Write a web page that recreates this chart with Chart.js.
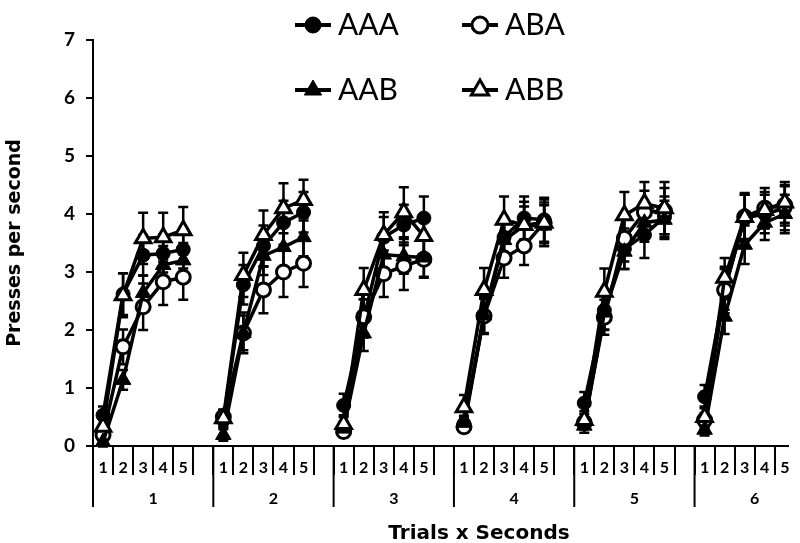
<!DOCTYPE html>
<html>
<head>
<meta charset="utf-8">
<script src="https://cdn.jsdelivr.net/npm/chart.js@4.4.0/dist/chart.umd.min.js"></script>
<style>
  html, body { margin: 0; padding: 0; background: #fff; overflow: hidden; }
  canvas { display: block; }
</style>
</head>
<body>
<canvas id="pressChart" width="800" height="543"></canvas>
<script>
// Tick labels
const trialLabels = ['1', '2', '3', '4', '5'];
const blockLabels = ['1', '2', '3', '4', '5', '6'];

// Means, 5 trials per block, blocks 1..6
const aaaMean = [0.53, 2.62, 3.29, 3.32, 3.39,  0.45, 2.78, 3.45, 3.85, 4.03,  0.70, 2.20, 3.60, 3.81, 3.93,
                 0.38, 2.26, 3.60, 3.93, 3.90,  0.74, 2.34, 3.40, 3.64, 3.95,  0.85, 2.70, 3.93, 4.00, 4.10];
const abaMean = [0.19, 1.71, 2.40, 2.83, 2.91,  0.50, 1.95, 2.69, 3.00, 3.15,  0.25, 2.23, 2.97, 3.10, 3.22,
                 0.33, 2.24, 3.24, 3.45, 3.85,  0.40, 2.22, 3.58, 4.03, 4.05,  0.45, 2.69, 3.95, 4.10, 4.15];
const aabMean = [0.07, 1.14, 2.64, 3.12, 3.20,  0.19, 1.95, 3.28, 3.43, 3.60,  0.30, 1.94, 3.30, 3.27, 3.25,
                 0.40, 2.25, 3.55, 3.80, 3.80,  0.35, 2.30, 3.35, 3.85, 3.90,  0.28, 2.23, 3.47, 3.85, 4.00];
const abbMean = [0.33, 2.60, 3.58, 3.60, 3.72,  0.48, 2.95, 3.64, 4.10, 4.24,  0.38, 2.69, 3.64, 4.03, 3.62,
                 0.67, 2.69, 3.90, 3.81, 3.85,  0.45, 2.66, 3.98, 4.18, 4.10,  0.50, 2.90, 3.95, 4.07, 4.20];

// Standard errors
const aaaSE = [0.15, 0.36, 0.35, 0.33, 0.33,  0.12, 0.34, 0.35, 0.38, 0.35,  0.20, 0.33, 0.35, 0.35, 0.37,
               0.12, 0.33, 0.35, 0.37, 0.38,  0.19, 0.33, 0.35, 0.40, 0.35,  0.20, 0.35, 0.40, 0.33, 0.38];
const abaSE = [0.12, 0.30, 0.40, 0.40, 0.39,  0.12, 0.35, 0.40, 0.43, 0.41,  0.10, 0.30, 0.40, 0.41, 0.32,
               0.10, 0.30, 0.34, 0.33, 0.35,  0.10, 0.30, 0.40, 0.37, 0.40,  0.12, 0.40, 0.38, 0.35, 0.35];
const aabSE = [0.08, 0.17, 0.30, 0.33, 0.30,  0.10, 0.30, 0.33, 0.35, 0.33,  0.12, 0.30, 0.33, 0.30, 0.33,
               0.12, 0.30, 0.33, 0.33, 0.35,  0.12, 0.30, 0.30, 0.33, 0.33,  0.10, 0.30, 0.33, 0.30, 0.33];
const abbSE = [0.12, 0.38, 0.44, 0.42, 0.40,  0.15, 0.38, 0.42, 0.43, 0.35,  0.15, 0.38, 0.39, 0.43, 0.35,
               0.21, 0.38, 0.40, 0.40, 0.40,  0.15, 0.40, 0.40, 0.37, 0.45,  0.18, 0.34, 0.41, 0.31, 0.35];

const slotsPerBlock = trialLabels.length + 1; // 5 trials + empty gap slot
const FONT = 'Lato, "DejaVu Sans", sans-serif';
const TITLE_FONT = '"DejaVu Sans", sans-serif';

// turn a flat mean array into x/y points, with a null gap after each block
function buildPoints(means, errs) {
    const pts = [];
    blockLabels.forEach((b, g) => {
        trialLabels.forEach((t, i) => {
            const k = g * trialLabels.length + i;
            pts.push({ x: g * slotsPerBlock + i + 0.5, y: means[k], se: errs[k] });
        });
        pts.push({ x: g * slotsPerBlock + trialLabels.length + 0.5, y: null });
    });
    return pts;
}

function makeSeries(label, means, errs, pointStyle, filled, radius, order) {
    return {
        label: label,
        data: buildPoints(means, errs),
        borderColor: '#000',
        borderWidth: 3.5,
        backgroundColor: filled ? '#000' : '#fff',
        pointStyle: pointStyle,
        pointRadius: radius,
        pointHoverRadius: radius,
        pointBorderWidth: filled ? 1 : 3,
        pointBackgroundColor: filled ? '#000' : '#fff',
        pointBorderColor: '#000',
        tension: 0,
        spanGaps: false,
        clip: false,
        order: order
    };
}

// vertical SE bars with caps
const errorBars = {
    id: 'errorBars',
    beforeDatasetsDraw(chart) {
        const { ctx, scales: { y } } = chart;
        ctx.save();
        ctx.strokeStyle = '#000';
        ctx.lineWidth = 2.5;
        chart.data.datasets.forEach((ds, i) => {
            const meta = chart.getDatasetMeta(i);
            ds.data.forEach((p, j) => {
                if (p.y === null) return;
                const px = meta.data[j].x;
                const hi = y.getPixelForValue(p.y + p.se);
                const lo = y.getPixelForValue(p.y - p.se);
                ctx.beginPath();
                ctx.moveTo(px, hi); ctx.lineTo(px, lo);
                ctx.moveTo(px - 5, hi); ctx.lineTo(px + 5, hi);
                ctx.moveTo(px - 5, lo); ctx.lineTo(px + 5, lo);
                ctx.stroke();
            });
        });
        ctx.restore();
    }
};

// two-row category axis + x title
const blockAxis = {
    id: 'blockAxis',
    afterDraw(chart) {
        const { ctx, scales: { x } } = chart;
        const base = x.top;
        ctx.save();
        ctx.strokeStyle = '#000';
        ctx.lineWidth = 2;
        ctx.fillStyle = '#000';
        ctx.textAlign = 'center';
        ctx.textBaseline = 'middle';
        blockLabels.forEach((b, g) => {
            const start = g * slotsPerBlock;
            const bx = x.getPixelForValue(start);
            ctx.beginPath();
            ctx.moveTo(bx, base);
            ctx.lineTo(bx, base + 61);
            ctx.stroke();
            ctx.font = 'bold 16px ' + FONT;
            trialLabels.forEach((t, i) => {
                ctx.fillText(t, x.getPixelForValue(start + i + 0.5), base + 22);
            });
            ctx.font = 'bold 16px ' + FONT;
            ctx.fillText(b, x.getPixelForValue(start + slotsPerBlock / 2), base + 53);
        });
        ctx.font = 'bold 20px ' + TITLE_FONT;
        ctx.textBaseline = 'alphabetic';
        ctx.fillText('Trials x Seconds', 479, 539);
        ctx.restore();
    }
};

// 2x2 legend drawn over the plot, line through marker
const markerLegend = {
    id: 'markerLegend',
    afterDraw(chart) {
        const { ctx } = chart;
        const spots = [[313, 35], [480, 35], [313, 100], [480, 100]];
        const byName = {};
        chart.data.datasets.forEach(ds => { byName[ds.label] = ds; });
        ['AAA', 'ABA', 'AAB', 'ABB'].forEach((name, i) => {
            const ds = byName[name];
            const [cx, base] = spots[i];
            const cy = base - 10;
            ctx.save();
            ctx.strokeStyle = '#000';
            ctx.lineWidth = 4;
            ctx.beginPath();
            ctx.moveTo(cx - 18, cy); ctx.lineTo(cx + 18, cy);
            ctx.stroke();
            ctx.fillStyle = ds.pointBackgroundColor;
            ctx.lineWidth = ds.pointBorderWidth;
            ctx.beginPath();
            if (ds.pointStyle === 'circle') {
                ctx.arc(cx, cy, 8, 0, Math.PI * 2);
            } else {
                const r = 10;
                ctx.moveTo(cx, cy - r);
                ctx.lineTo(cx + r * Math.sin(2 * Math.PI / 3), cy - r * Math.cos(2 * Math.PI / 3));
                ctx.lineTo(cx + r * Math.sin(4 * Math.PI / 3), cy - r * Math.cos(4 * Math.PI / 3));
                ctx.closePath();
            }
            ctx.fill();
            ctx.stroke();
            ctx.fillStyle = '#000';
            ctx.font = '30px ' + FONT;
            ctx.textAlign = 'left';
            ctx.textBaseline = 'alphabetic';
            ctx.fillText(name, cx + 25, base);
            ctx.restore();
        });
    }
};

const ctx = document.getElementById('pressChart').getContext('2d');
new Chart(ctx, {
    type: 'line',
    plugins: [errorBars, blockAxis, markerLegend],
    data: {
        datasets: [
            makeSeries('AAA', aaaMean, aaaSE, 'circle', true, 7, 3),
            makeSeries('ABA', abaMean, abaSE, 'circle', false, 7, 2),
            makeSeries('AAB', aabMean, aabSE, 'triangle', true, 9, 1),
            makeSeries('ABB', abbMean, abbSE, 'triangle', false, 9, 0)
        ]
    },
    options: {
        responsive: false,
        animation: false,
        devicePixelRatio: 1,
        layout: { padding: { top: 40, right: 0, bottom: 0, left: 0 } },
        plugins: {
            legend: { display: false },
            tooltip: { enabled: false }
        },
        scales: {
            x: {
                type: 'linear',
                min: 0,
                max: 34.66,
                afterBuildTicks: s => {
                    s.ticks = [];
                    for (let v = 0; v <= s.max; v++) s.ticks.push({ value: v });
                },
                afterFit: s => { s.height = 97; },
                ticks: { display: false },
                grid: { drawOnChartArea: false, tickLength: 29, color: '#000', lineWidth: 2 },
                border: { color: '#000', width: 2 }
            },
            y: {
                min: 0,
                max: 7,
                afterFit: s => { s.width = 93; },
                ticks: {
                    stepSize: 1,
                    color: '#000',
                    padding: 11,
                    font: { family: FONT, weight: 'bold', size: 19 }
                },
                grid: { drawOnChartArea: false, tickLength: 7, color: '#000', lineWidth: 2 },
                border: { color: '#000', width: 2 },
                title: {
                    display: true,
                    text: 'Presses per second',
                    color: '#000',
                    padding: { top: 4 },
                    font: { family: TITLE_FONT, weight: 'bold', size: 19 }
                }
            }
        }
    }
});
</script>
</body>
</html>
